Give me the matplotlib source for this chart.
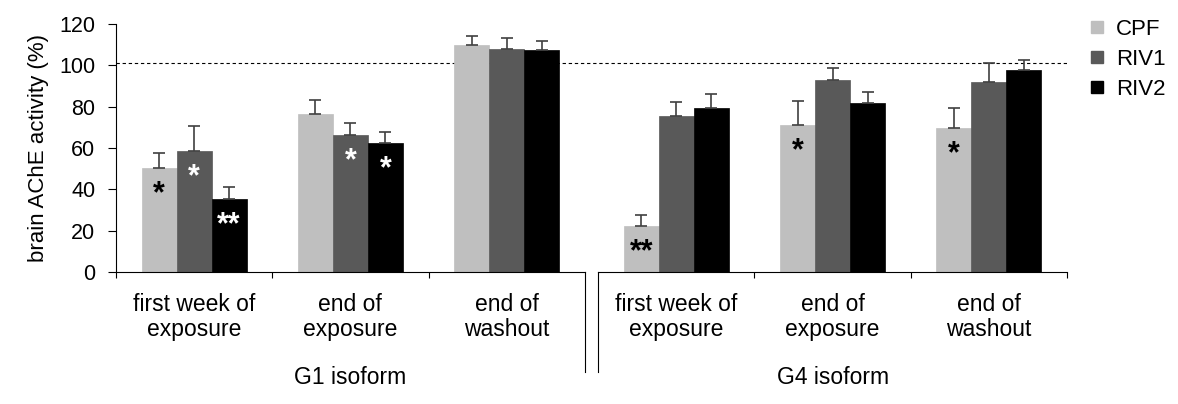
import matplotlib.pyplot as plt
import numpy as np
from matplotlib.lines import Line2D

plt.rcParams['font.family'] = ['Liberation Sans', 'DejaVu Sans']

# data
periods = ['first week of\nexposure', 'end of\nexposure', 'end of\nwashout']
isoforms = ['G1 isoform', 'G4 isoform']
series = ['CPF', 'RIV1', 'RIV2']
colors = ['#bfbfbf', '#595959', '#000000']

cpf = [50.5, 76.3, 109.8, 22.4, 71.1, 69.7]
riv1 = [58.7, 66.3, 107.9, 75.3, 92.9, 91.9]
riv2 = [35.2, 62.3, 107.3, 79.5, 81.8, 97.7]

cpf_err = [7.1, 6.8, 4.2, 5.2, 11.8, 9.8]
riv1_err = [12.1, 5.8, 5.3, 7.1, 6.0, 9.1]
riv2_err = [5.9, 5.6, 4.6, 6.8, 5.1, 4.7]

cpf_sig = ['*', '', '', '**', '*', '*']
riv1_sig = ['*', '*', '', '', '', '']
riv2_sig = ['**', '*', '', '', '', '']
sig_colors = ['black', 'white', 'white']

control = 101

values = [cpf, riv1, riv2]
errors = [cpf_err, riv1_err, riv2_err]
sigs = [cpf_sig, riv1_sig, riv2_sig]

gap = 0.085  # gap between the two isoform blocks
x = np.array([0, 1, 2, 3 + gap, 4 + gap, 5 + gap])
w = 0.224

fig = plt.figure(figsize=(11.78, 4.04), dpi=100)
ax = fig.add_axes([116/1178, 1 - 272/404, (1067-116)/1178, 248/404])

for i in range(3):
    ax.bar(x + (i - 1) * w, values[i], w, color=colors[i], edgecolor=colors[i], linewidth=0.5,
           yerr=[np.zeros(6), errors[i]],
           error_kw=dict(ecolor='#404040', elinewidth=1.2, capsize=4.5, capthick=1.2), zorder=2)
    for j in range(6):
        if sigs[i][j]:
            ax.annotate(sigs[i][j], (x[j] + (i - 1) * w, values[i][j]), xytext=(0, -19),
                        textcoords='offset points', ha='center', va='center',
                        fontsize=22, fontweight='bold', color=sig_colors[i], zorder=3)

ax.axhline(control, color='black', linestyle=(0, (3, 2.5)), linewidth=0.8, zorder=1)

ax.set_ylim(0, 120)
ax.set_xlim(-0.5, 5.5 + gap)
ax.set_yticks(np.arange(0, 121, 20))
ax.tick_params(axis='y', labelsize=15.5, length=6, width=0.8, pad=9)
ax.spines['top'].set_visible(False)
ax.spines['right'].set_visible(False)
ax.spines['bottom'].set_visible(False)
ax.spines['left'].set_linewidth(0.8)
ax.set_ylabel('brain AChE activity (%)', fontsize=16, labelpad=7)

# two separate category axes
ax.set_xticks([-0.5, 0.5, 1.5, 3.5 + gap, 4.5 + gap, 5.5 + gap])
ax.set_xticklabels([])
ax.tick_params(axis='x', length=4.5, width=0.8)
tr = ax.get_xaxis_transform()
ax.plot([-0.5, 2.5], [0, 0], color='black', lw=0.8, transform=tr, clip_on=False)
ax.plot([2.5 + gap, 5.5 + gap], [0, 0], color='black', lw=0.8, transform=tr, clip_on=False)
ax.plot([2.5, 2.5], [0, -0.403], color='black', lw=0.8, transform=tr, clip_on=False)
ax.plot([2.5 + gap, 2.5 + gap], [0, -0.403], color='black', lw=0.8, transform=tr, clip_on=False)

for j in range(6):
    ax.text(x[j], -0.182, periods[j % 3], transform=tr, ha='center', va='center',
            fontsize=16.5, linespacing=1.15)
ax.text(1, -0.427, isoforms[0], transform=tr, ha='center', va='center', fontsize=16.5)
ax.text(4 + gap, -0.427, isoforms[1], transform=tr, ha='center', va='center', fontsize=16.5)

handles = [Line2D([], [], marker='s', linestyle='none', markersize=8,
                  markerfacecolor=c, markeredgecolor=c) for c in colors]
fig.legend(handles, series, loc='upper left', bbox_to_anchor=(1076/1178, 1 - 8/404),
           frameon=False, fontsize=16, borderpad=0, handlelength=0.9,
           handletextpad=0.4, labelspacing=0.4)

fig.savefig('out.png', dpi=100)
